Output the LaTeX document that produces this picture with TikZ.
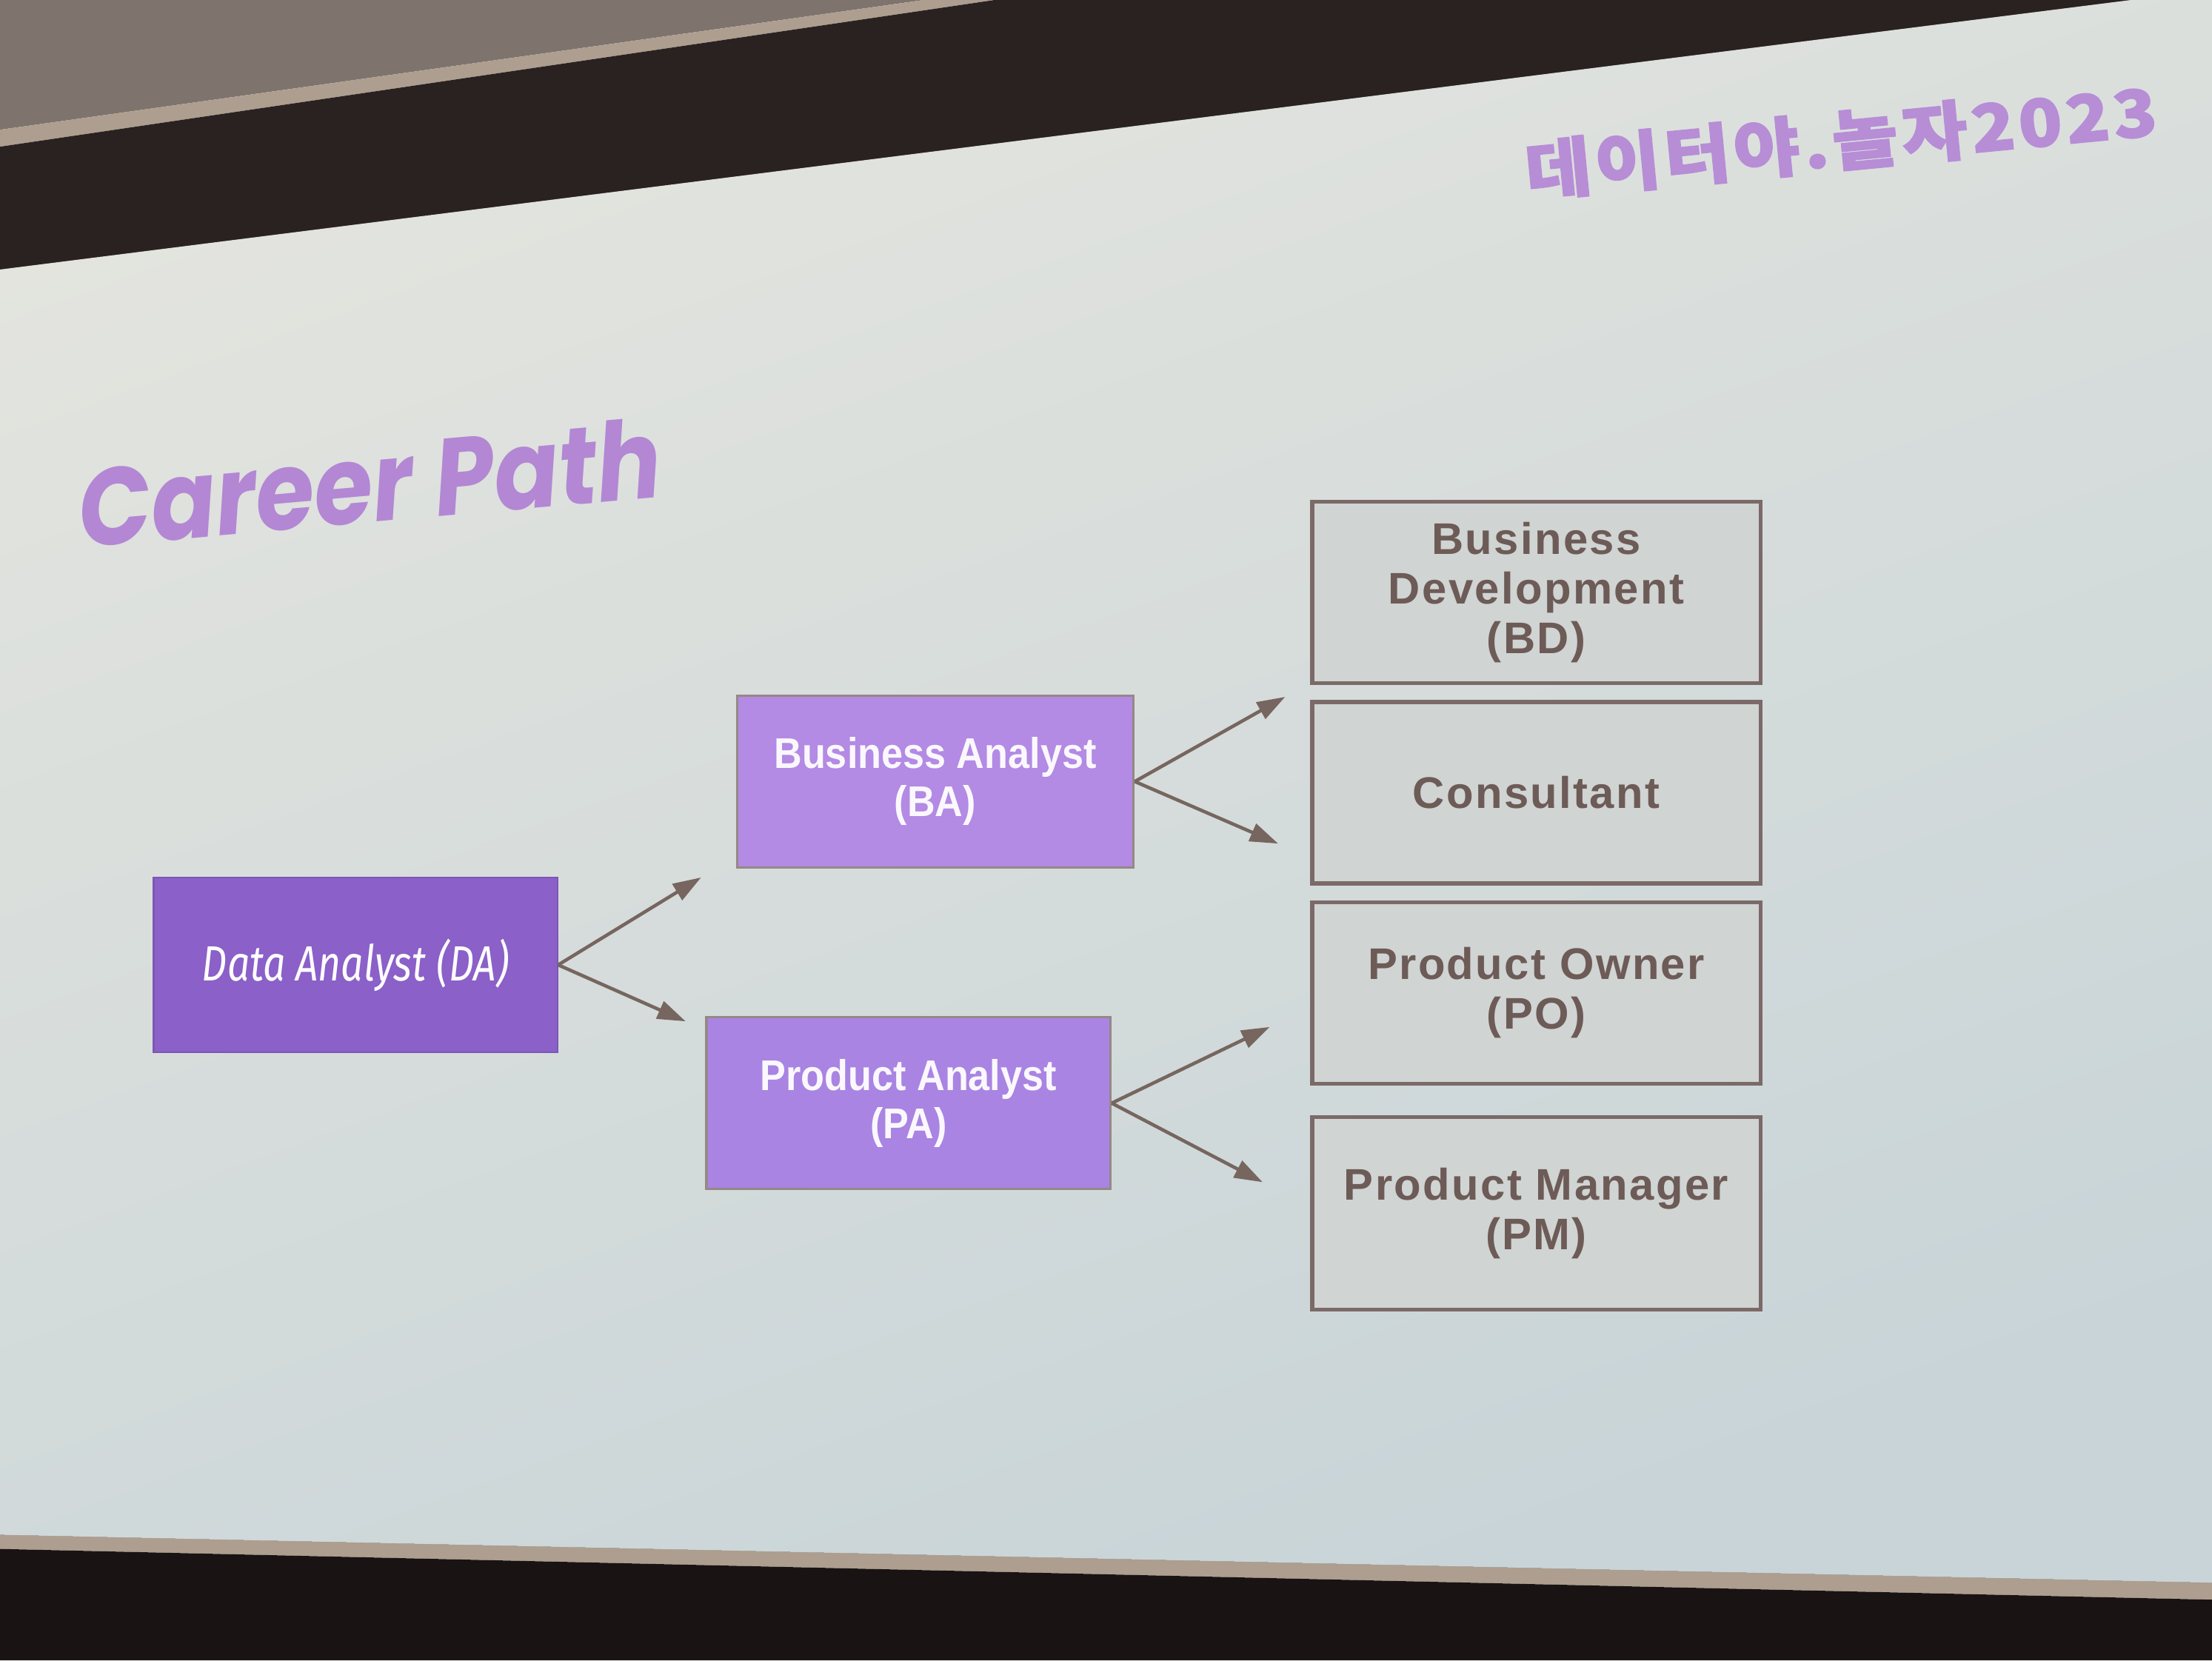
\documentclass[tikz,border=0pt]{standalone}
\usepackage{fontspec}
\usepackage{tikz}
\usetikzlibrary{calc,positioning,arrows.meta}

\newfontfamily\titlefont{Poppins}[FakeStretch=0.87]
\newfontfamily\krfont{Noto Sans CJK KR}[FakeStretch=1.1, LetterSpace=6, BoldFeatures={FakeBold=2}]
\newfontfamily\dafont{Fira Sans}[FakeStretch=0.8]
\newfontfamily\anafont{Liberation Sans}[FakeStretch=0.9]
\newfontfamily\rolefont{Liberation Sans}[LetterSpace=4]

\definecolor{slidetop}{HTML}{E3E4DE}
\definecolor{slidebot}{HTML}{C8D4D8}
\definecolor{wallgrey}{HTML}{7E746D}
\definecolor{framebeige}{HTML}{AD9E8F}
\definecolor{darkband}{HTML}{2A2220}
\definecolor{dapurple}{HTML}{8B60C8}
\definecolor{bapurple}{HTML}{B38AE4}
\definecolor{papurple}{HTML}{A984E3}
\definecolor{rolefill}{HTML}{D0D4D3}
\definecolor{roleline}{HTML}{7B6A68}
\definecolor{roletext}{HTML}{6D5B57}
\definecolor{arrowbrown}{HTML}{76665F}
\definecolor{titlepurple}{HTML}{B387D4}

\begin{document}
\begin{tikzpicture}[x=0.01905cm, y=-0.01905cm, node distance=0.2cm,
  dabox/.style={rectangle, fill=dapurple, draw=dapurple!90!black, line width=0.6pt,
    minimum width=5.45cm, minimum height=2.36cm, text=white,
    font=\dafont\itshape\fontsize{19}{22}\selectfont},
  anabox/.style={rectangle, draw=roleline!80, line width=1pt, minimum width=5.35cm,
    minimum height=2.32cm, align=center, text=white!94!bapurple,
    font=\anafont\bfseries\fontsize{16.5}{18.5}\selectfont},
  rolebox/.style={rectangle, fill=rolefill, draw=roleline, line width=1.5pt,
    minimum width=6.05cm, minimum height=2.45cm, align=center, text=roletext,
    font=\rolefont\bfseries\fontsize{17}{19}\selectfont},
  flow/.style={draw=arrowbrown, line width=1.3pt,
    -{Triangle[length=0.38cm, width=0.25cm]}}]
 \useasboundingbox (0,0) rectangle (1568,1177);

 \fill[top color=slidetop, bottom color=slidebot, shading angle=20]
   (0,191) -- (1510,0) -- (1568,0) -- (1568,1122) -- (0,1088) -- cycle;
 \fill[wallgrey] (0,0) -- (655,0) -- (0,92) -- cycle;
 \fill[framebeige] (0,92) -- (655,0) -- (705,0) -- (0,104) -- cycle;
 \fill[darkband] (0,104) -- (705,0) -- (1510,0) -- (0,191) -- cycle;
 \fill[framebeige] (0,1088) -- (1568,1122) -- (1568,1134) -- (0,1098) -- cycle;
 \fill[darkband!60!black] (0,1098) -- (1568,1134) -- (1568,1177) -- (0,1177) -- cycle;

 \node (event) [rotate=5.5, text=titlepurple!95!white,
   font=\krfont\bfseries\fontsize{25}{28}\selectfont] at (1305,100) {데이터야.놀자2023};
 \node (title) [rotate=5, text=titlepurple,
   font=\titlefont\bfseries\itshape\fontsize{42}{46}\selectfont] at (262,342) {Career Path};

 \node (da) [dabox] at (252,684) {Data Analyst (DA)};
 \node (ba) [anabox, fill=bapurple] at (663,554) {Business Analyst\\(BA)};
 \node (pa) [anabox, fill=papurple, minimum width=5.45cm] at (644,782) {Product Analyst\\(PA)};

 \node (bd) [rolebox] at (1089,420) {Business\\Development\\(BD)};
 \node (cons) [rolebox, below=of bd] {Consultant};
 \node (po) [rolebox, below=of cons] {Product Owner\\(PO)};
 \node (pm) [rolebox, below=0.4cm of po, minimum height=2.6cm] {Product Manager\\(PM)};

 \coordinate (da-up) at (497,622);
 \coordinate (da-dn) at (486,724);
 \coordinate (ba-up) at (911,494);
 \coordinate (ba-dn) at (906,598);
 \coordinate (pa-up) at (900,728);
 \coordinate (pa-dn) at (895,838);

 \draw[flow] (da.east) -- (da-up);
 \draw[flow] (da.east) -- (da-dn);
 \draw[flow] (ba.east) -- (ba-up);
 \draw[flow] (ba.east) -- (ba-dn);
 \draw[flow] (pa.east) -- (pa-up);
 \draw[flow] (pa.east) -- (pa-dn);
\end{tikzpicture}
\end{document}
